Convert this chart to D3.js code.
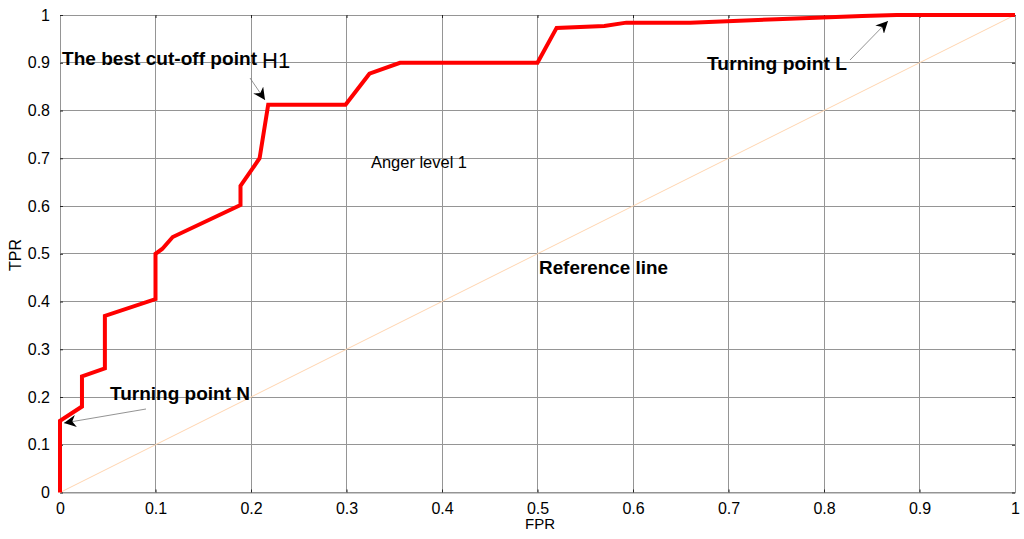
<!DOCTYPE html>
<html>
<head>
<meta charset="utf-8">
<script src="https://cdn.jsdelivr.net/npm/d3@7"></script>
<style>
html,body{margin:0;padding:0;background:#fff;}
svg{display:block;font-family:"Liberation Sans",Arial,sans-serif;}
</style>
</head>
<body>
<svg id="chart" width="1024" height="539"></svg>
<script>
// ROC curve data (Anger level 1)
const fpr = [0, 0, 0.023, 0.023, 0.047, 0.047, 0.1, 0.1, 0.107, 0.118, 0.189, 0.189, 0.209, 0.218, 0.299, 0.324, 0.356, 0.5, 0.52, 0.57, 0.593, 0.66, 0.75, 0.84, 0.876, 1];
const tpr = [0, 0.15, 0.18, 0.243, 0.26, 0.37, 0.405, 0.5, 0.51, 0.535, 0.602, 0.642, 0.70, 0.812, 0.812, 0.877, 0.9, 0.9, 0.973, 0.977, 0.984, 0.984, 0.991, 0.998, 1, 1];
// reference (chance) line
const refX = [0, 1];
const refY = [0, 1];
const xTicks = [0, 0.1, 0.2, 0.3, 0.4, 0.5, 0.6, 0.7, 0.8, 0.9, 1];
const yTicks = [0, 0.1, 0.2, 0.3, 0.4, 0.5, 0.6, 0.7, 0.8, 0.9, 1];
const xLabel = "FPR", yLabel = "TPR";

const svg = d3.select("#chart");
const L = 60, R = 1015, T = 15, B = 492.5;
const x = d3.scaleLinear().domain([0, 1]).range([L, R]);
const y = d3.scaleLinear().domain([0, 1]).range([B, T]);
const fmt = d => d === 0 || d === 1 ? String(d) : d3.format(".1f")(d);

// grid
const grid = svg.append("g").attr("stroke", "#959595").attr("stroke-width", 1).attr("shape-rendering", "crispEdges");
xTicks.forEach(t => grid.append("line").attr("x1", x(t)).attr("x2", x(t)).attr("y1", T).attr("y2", B));
yTicks.forEach(t => grid.append("line").attr("y1", y(t)).attr("y2", y(t)).attr("x1", L).attr("x2", R));

// axes with inward ticks
const tickLen = -3;
const gx = svg.append("g").attr("transform", `translate(0,${B})`)
  .call(d3.axisBottom(x).tickValues(xTicks).tickFormat(fmt).tickSizeInner(tickLen).tickSizeOuter(0).tickPadding(10));
const gxTop = svg.append("g").attr("transform", `translate(0,${T})`)
  .call(d3.axisTop(x).tickValues(xTicks).tickFormat("").tickSizeInner(tickLen).tickSizeOuter(0));
const gy = svg.append("g").attr("transform", `translate(${L},0)`)
  .call(d3.axisLeft(y).tickValues(yTicks).tickFormat(fmt).tickSizeInner(tickLen).tickSizeOuter(0).tickPadding(10));
const gyR = svg.append("g").attr("transform", `translate(${R},0)`)
  .call(d3.axisRight(y).tickValues(yTicks).tickFormat("").tickSizeInner(tickLen).tickSizeOuter(0));
[gx, gxTop, gy, gyR].forEach(g => {
  g.select(".domain").attr("stroke", "#959595");
  g.selectAll(".tick line").attr("stroke", "#222");
  g.selectAll("text").attr("font-size", 16).attr("fill", "#000").attr("font-family", "Liberation Sans, Arial, sans-serif");
});
gx.selectAll("text").attr("dy", "0.71em");

// reference line
svg.append("path")
  .datum(refX.map((v, i) => [v, refY[i]]))
  .attr("fill", "none").attr("stroke", "#ffd5b0").attr("stroke-width", 1)
  .attr("d", d3.line().x(d => x(d[0])).y(d => y(d[1])));

// ROC curve
svg.append("path")
  .datum(fpr.map((v, i) => [v, tpr[i]]))
  .attr("fill", "none").attr("stroke", "#ff0000").attr("stroke-width", 4)
  .attr("stroke-linejoin", "miter")
  .attr("d", d3.line().x(d => x(d[0])).y(d => y(d[1])));

// axis labels
svg.append("text").attr("x", 540).attr("y", 529).attr("text-anchor", "middle")
  .attr("font-size", 15).text(xLabel);
svg.append("text").attr("transform", "translate(21,255) rotate(-90)").attr("text-anchor", "middle")
  .attr("font-size", 16).text(yLabel);

// annotations
const defs = svg.append("defs");
defs.append("marker").attr("id", "ah").attr("viewBox", "0 0 10 10").attr("refX", 10).attr("refY", 5)
  .attr("markerWidth", 12).attr("markerHeight", 12).attr("markerUnits", "userSpaceOnUse").attr("orient", "auto")
  .append("path").attr("d", "M0,0 L10,5 L0,10 L3,5 Z").attr("fill", "#000");

function arrow(x1, y1, x2, y2) {
  svg.append("line").attr("x1", x1).attr("y1", y1).attr("x2", x2).attr("y2", y2)
    .attr("stroke", "#777").attr("stroke-width", 0.8).attr("marker-end", "url(#ah)");
}
svg.append("text").attr("x", 62).attr("y", 65).attr("font-size", 18).attr("font-weight", "bold")
  .attr("textLength", 195).attr("lengthAdjust", "spacingAndGlyphs").text("The best cut-off point");
svg.append("text").attr("x", 262).attr("y", 68).attr("font-size", 22).text("H1");
arrow(250, 78, 265, 100);

svg.append("text").attr("x", 110).attr("y", 400).attr("font-size", 18).attr("font-weight", "bold")
  .attr("textLength", 140).attr("lengthAdjust", "spacingAndGlyphs").text("Turning point N");
arrow(146, 409, 64, 423);

svg.append("text").attr("x", 707).attr("y", 70).attr("font-size", 18).attr("font-weight", "bold")
  .attr("textLength", 140).attr("lengthAdjust", "spacingAndGlyphs").text("Turning point L");
arrow(850, 60, 888, 21);

svg.append("text").attr("x", 539).attr("y", 274).attr("font-size", 18).attr("font-weight", "bold")
  .attr("textLength", 129).attr("lengthAdjust", "spacingAndGlyphs").text("Reference line");

svg.append("text").attr("x", 371).attr("y", 168).attr("font-size", 16)
  .attr("textLength", 96).attr("lengthAdjust", "spacingAndGlyphs").text("Anger level 1");
</script>
</body>
</html>
